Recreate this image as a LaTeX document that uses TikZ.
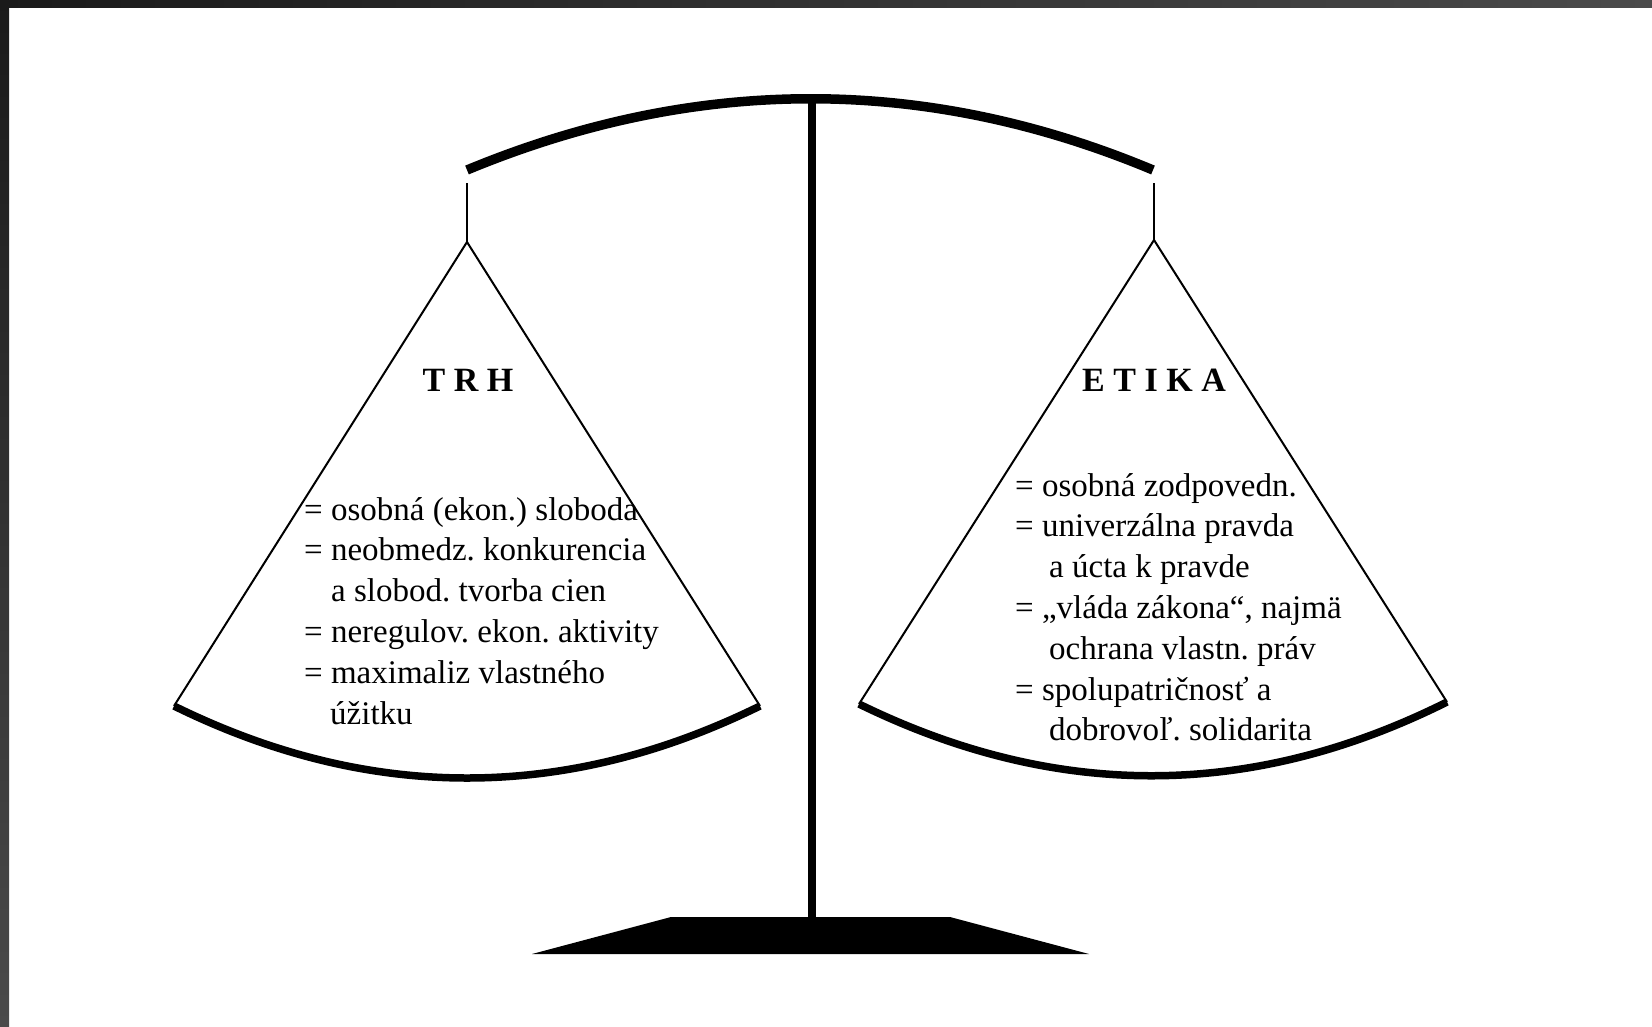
\documentclass[tikz,border=0pt]{standalone}
\usepackage{fontspec}
\setmainfont{Liberation Serif}
\usepackage{xcolor}
\usepackage{tikz}

\definecolor{framedark}{HTML}{1A1A1A}
\definecolor{framegray}{HTML}{4A4A4A}

\begin{document}
\frenchspacing
\begin{tikzpicture}[x=1pt, y=-1pt,
    beam/.style={line width=9.5pt},
    cord/.style={line width=2pt},
    panline/.style={line width=7.5pt},
    heading/.style={font=\fontsize{34}{40}\selectfont\bfseries, inner sep=0pt, anchor=base},
    listtext/.style={font=\fontsize{33}{40}\selectfont, inner sep=0pt, anchor=base west}]
  \useasboundingbox (0,0) rectangle (1652,1026);

  % Screen frame
  \shade[left color=framedark, right color=framegray] (0,0) rectangle (1652,7);
  \shade[top color=framedark, bottom color=framegray] (0,0) rectangle (9,1026);

  % Points of the scale
  \coordinate (beamL) at (467,170);
  \coordinate (beamR) at (1153,170);
  \coordinate (poleTop) at (812,100);
  \coordinate (poleBot) at (812,917);
  \coordinate (hookL) at (467,183);
  \coordinate (apexL) at (467,242);
  \coordinate (panLL) at (174,706);
  \coordinate (panLR) at (760,706);
  \coordinate (hookR) at (1154,183);
  \coordinate (apexR) at (1154,240);
  \coordinate (panRL) at (859,704);
  \coordinate (panRR) at (1447,702);

  % Beam and pole
  \draw[beam] (beamL) .. controls (696,75) and (926,75) .. (beamR);
  \draw[line width=8pt] (poleTop) -- (poleBot);

  % Base
  \fill (671,917) -- (950,917) -- (1089,954) -- (532,954) -- cycle;

  % Left pan
  \draw[cord] (hookL) -- (apexL);
  \draw[cord] (panLL) -- (apexL) -- (panLR);
  \draw[panline] (panLL) .. controls (369,802) and (565,802) .. (panLR);

  % Right pan
  \draw[cord] (hookR) -- (apexR);
  \draw[cord] (panRL) -- (apexR) -- (panRR);
  \draw[panline] (panRL) .. controls (1055,800) and (1251,800) .. (panRR);

  % Headings
  \node[heading] (trh) at (468,391) {T R H};
  \node[heading] (etika) at (1154,391) {E T I K A};

  % TRH list
  \foreach \xx/\txt [count=\i] in {304/{= osobná (ekon.) sloboda},
      304/{= neobmedz. konkurencia}, 331/{a slobod. tvorba cien},
      304/{= neregulov. ekon. aktivity}, 304/{= maximaliz vlastného},
      330/{úžitku}} {
    \node[listtext] (trh\i) at (\xx, 520+40.8*\i-40.8) {\txt};
  }

  % ETIKA list
  \foreach \xx/\txt [count=\i] in {1015/{= osobná zodpovedn.},
      1015/{= univerzálna pravda}, 1049/{a úcta k pravde},
      1015/{= „vláda zákona“, najmä}, 1049/{ochrana vlastn. práv},
      1015/{= spolupatričnosť a}, 1049/{dobrovoľ. solidarita}} {
    \node[listtext] (etika\i) at (\xx, 496+40.8*\i-40.8) {\txt};
  }
\end{tikzpicture}
\end{document}
